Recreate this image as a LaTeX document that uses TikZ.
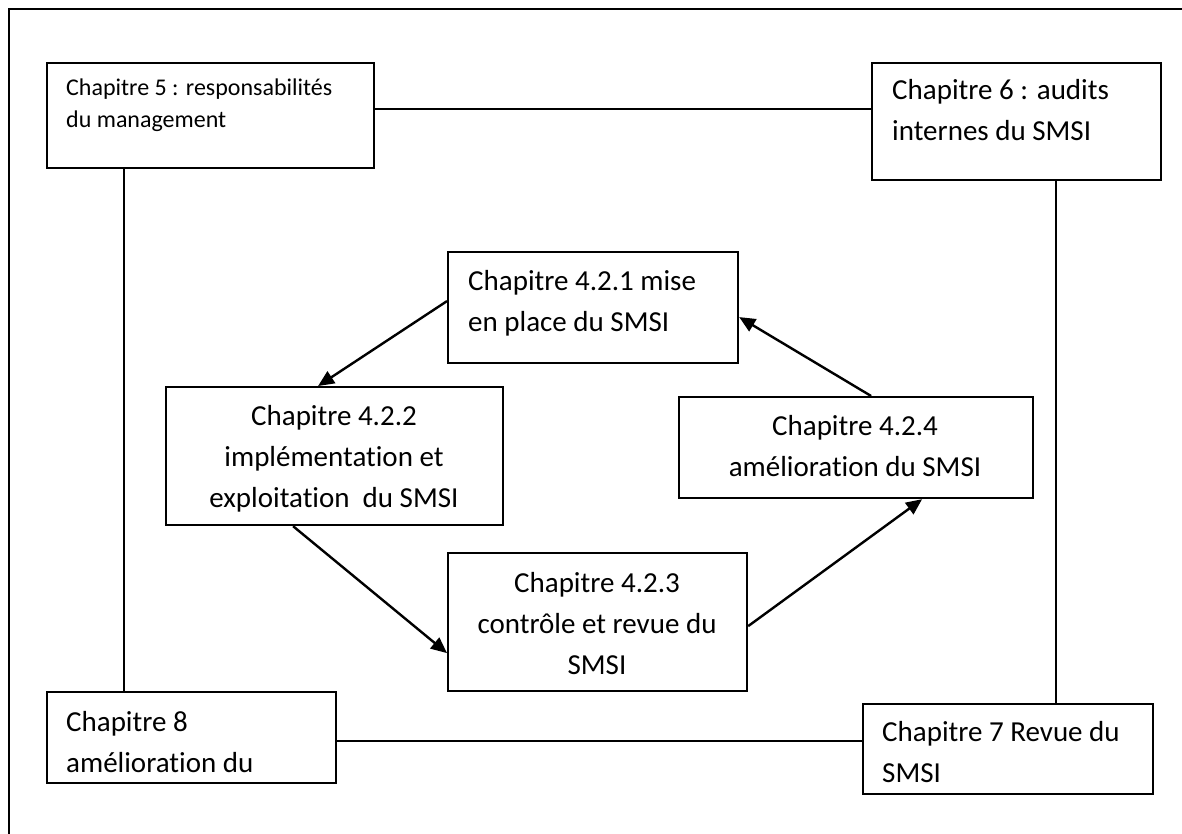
\documentclass[tikz,border=0pt]{standalone}
\usepackage{fontspec}
\setmainfont{Carlito}[Ligatures={NoCommon,NoContextual},Contextuals={NoAlternate}]
\usetikzlibrary{arrows.meta,calc}
% multi-line labels aligned on the baseline of their first line
\newcommand\linesl[1]{\begin{tabular}[t]{@{}l@{}}#1\end{tabular}}
\newcommand\linesc[1]{\begin{tabular}[t]{@{}c@{}}#1\end{tabular}}
% keeps "t" and "i" as separate glyphs
\newcommand\tI{t\kern0pt i}

\begin{document}
\begin{tikzpicture}[x=1pt,y=-1pt,
  box/.style={draw=black, line width=2.2pt, rectangle, inner sep=0pt, anchor=north west},
  big/.style={inner sep=0pt, font=\fontsize{29}{41}\selectfont},
  small/.style={inner sep=0pt, font=\fontsize{24}{32}\selectfont},
  link/.style={line width=2.2pt},
  flow/.style={line width=2.4pt, -{Triangle[length=16pt,width=14pt]}}]

\fill[white] (0,0) rectangle (1182,834);
\useasboundingbox (0,0) rectangle (1182,834);

% page frame
\draw[line width=2.8pt] (9,834) -- (9,9) -- (1182,9);

% outer ring of chapters
\node[box, minimum width=327pt, minimum height=105pt] (ch5) at (46,62) {};
\node[box, minimum width=289pt, minimum height=117pt] (ch6) at (871,62) {};
\node[box, minimum width=289pt, minimum height=91pt]  (ch8) at (46,691) {};
\node[box, minimum width=290pt, minimum height=90pt]  (ch7) at (862,703) {};

\node[small, anchor=base west] (ch5t) at (66,96)
  {\linesl{Chapitre 5 : responsabilités\\du management}};
\node[big, anchor=base west] (ch6t) at (892,100)
  {\linesl{Chapitre 6 : audits\\internes du SMSI}};
\node[big, anchor=base west] (ch8t) at (66,731)
  {\linesl{Chapitre 8\\améliora\tI on du}};
\node[big, anchor=base west] (ch7t) at (882,741)
  {\linesl{Chapitre 7 Revue du\\SMSI}};

% inner PDCA cycle
\node[box, minimum width=290pt, minimum height=111pt] (n421) at (447,251) {};
\node[box, minimum width=337pt, minimum height=138pt] (n422) at (165,386) {};
\node[box, minimum width=354pt, minimum height=101pt] (n424) at (678,396) {};
\node[box, minimum width=299pt, minimum height=138pt] (n423) at (447,552) {};

\node[big, anchor=base west] (n421t) at (468,290)
  {\linesl{Chapitre 4.2.1 mise\\en place du SMSI}};
\node[big, anchor=base] (n422t) at (334,425)
  {\linesc{Chapitre 4.2.2\\implémenta\tI on et\\exploita\tI on\ \ du SMSI}};
\node[big, anchor=base] (n424t) at (855,435)
  {\linesc{Chapitre 4.2.4\\améliora\tI on du SMSI}};
\node[big, anchor=base] (n423t) at (597,592)
  {\linesc{Chapitre 4.2.3\\contrôle et revue du\\SMSI}};

% links between the outer chapters
\draw[link] ([yshift=6.5pt]ch5.east) coordinate (l56) -- (l56 -| ch6.west);
\draw[link] ([xshift=-86.5pt]ch5.south) coordinate (l58) -- (l58 |- ch8.north);
\draw[link] ([xshift=39.5pt]ch6.south) coordinate (l67) -- (l67 |- ch7.north);
\draw[link] ([yshift=-3.5pt]ch8.east) coordinate (l87) -- (l87 -| ch7.west);

% cycle arrows
\draw[flow] ([yshift=6.5pt]n421.west) -- ([xshift=-16.5pt]n422.north);
\draw[flow] ([xshift=-41.5pt]n422.south) -- ([yshift=-31pt]n423.west);
\draw[flow] ([yshift=-4pt]n423.east) -- ([xshift=66pt]n424.south);
\draw[flow] ([xshift=15pt]n424.north) -- ([yshift=-9.5pt]n421.east);
\end{tikzpicture}
\end{document}
